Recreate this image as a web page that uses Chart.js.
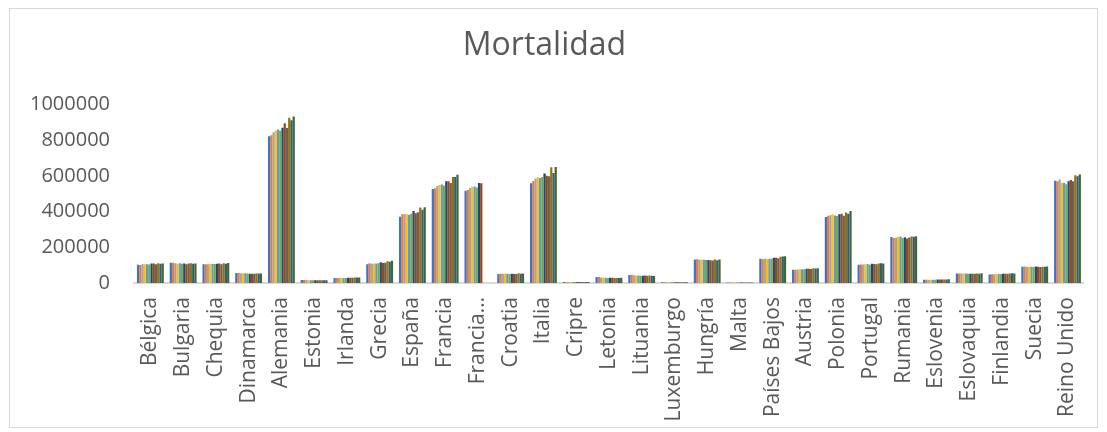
<!DOCTYPE html>
<html>
<head>
<meta charset="utf-8">
<script src="https://cdn.jsdelivr.net/npm/chart.js@4/dist/chart.umd.min.js"></script>
<style>
  html, body { margin: 0; padding: 0; background: #ffffff; }
  #wrap { position: relative; width: 1107px; height: 432px; }
  canvas { display: block; }
</style>
</head>
<body>
<div id="wrap"><canvas id="c" width="1107" height="432"></canvas></div>
<script>
const categories = ["Bélgica","Bulgaria","Chequia","Dinamarca","Alemania","Estonia","Irlanda","Grecia","España","Francia","Francia…","Croatia","Italia","Cripre","Letonia","Lituania","Luxemburgo","Hungría","Malta","Países Bajos","Austria","Polonia","Portugal","Rumania","Eslovenia","Eslovaquia","Finlandia","Suecia","Reino Unido"];
const years = ["2006","2007","2008","2009","2010","2011","2012","2013","2014","2015","2016","2017"];
const yTicks = [0, 200000, 400000, 600000, 800000, 1000000];

// values per country, one entry per year (2006..2017)
const belgica = [101587,100658,104587,104509,105094,104247,109034,109295,104723,110508,108056,109629];
const bulgaria = [113438,113004,110523,108068,110165,108258,109281,104345,108952,110117,107580,109791];
const chequia = [104441,104636,104948,107421,106844,106848,108189,109160,105665,111173,107750,111443];
const dinamarca = [55477,55604,54591,54872,54368,52516,52325,52471,51340,52555,52824,53261];
const alemania = [821627,827155,844439,854544,858768,852328,869582,893825,868356,925200,910899,932272];
const estonia = [17316,17409,16675,16081,15790,15244,15450,15244,15453,15243,15392,15577];
const irlanda = [28488,28117,28274,28380,27961,28456,29186,29504,29252,30127,30667,30418];
const grecia = [105476,109895,107979,108316,109084,111099,116670,111794,113740,121212,118788,124501];
const espana = [371478,385361,386324,384933,382047,387911,402950,390419,395830,422568,410611,424523];
const francia = [526920,531162,542575,548541,551218,545057,569868,569236,559293,593680,593865,606274];
const franciaMet = [516416,521016,532131,538116,540469,534795,559227,558408,null,null,null,null];
const croatia = [50378,52367,52151,52414,52096,51019,51710,50386,50839,54205,51542,53477];
const italia = [557892,570801,585126,591663,587488,593402,612883,600744,598364,647571,615261,649061];
const chipre = [5084,5301,5194,5182,5103,5504,5436,5360,5518,5522,5652,5686];
const letonia = [33098,33042,31006,29897,30040,28540,29025,28748,28471,28478,28580,28757];
const lituania = [44813,45624,43832,42032,42120,41037,40938,41511,40252,41776,40977,39574];
const luxemburgo = [3766,3866,3595,3655,3760,3819,3876,3956,3707,4060,3996,4162];
const hungria = [131603,132938,130027,130414,130456,128795,129440,126778,126308,131697,127053,131674];
const malta = [3200,3189,3194,3217,3030,3309,3263,3237,3293,3288,3404,3462];
const paisesBajos = [135372,133022,135136,134235,136058,135741,140813,141245,139223,147134,148973,150214];
const austria = [74295,74625,75083,77381,77199,76479,79436,79526,78252,83073,80669,83270];
const polonia = [369686,377226,379399,384940,378478,375501,384788,387312,376467,394921,388009,402852];
const portugal = [101990,103512,104280,104434,105954,102848,107612,106554,104843,108539,110573,109758];
const rumania = [258094,251965,253202,257213,259723,251439,255539,248721,254965,260995,258631,261899];
const eslovenia = [18180,18584,18308,18750,18609,18699,19257,19328,18965,19834,19689,20509];
const eslovaquia = [53301,53856,53164,52913,53445,51903,52437,52089,51346,53826,52351,53914];
const finlandia = [48065,49077,49094,49883,50887,50585,51707,51472,52186,52492,53923,53722];
const suecia = [91177,91729,91449,90080,90487,89938,91938,90402,88976,90907,90982,91972];
const reinoUnido = [572224,570044,579697,559617,561666,552232,569024,576458,570341,602782,597206,607172];

const countryValues = [belgica,bulgaria,chequia,dinamarca,alemania,estonia,irlanda,grecia,espana,francia,franciaMet,croatia,italia,chipre,letonia,lituania,luxemburgo,hungria,malta,paisesBajos,austria,polonia,portugal,rumania,eslovenia,eslovaquia,finlandia,suecia,reinoUnido];

const colors = ["#4472C4","#ED7D31","#A5A5A5","#FFC000","#5B9BD5","#70AD47","#264478","#9E480E","#636363","#997300","#255E91","#43682B"];

const datasets = years.map((y, i) => ({
  label: y,
  data: countryValues.map(c => c[i]),
  backgroundColor: colors[i],
  borderWidth: 0,
  categoryPercentage: 0.82,
  barPercentage: 1.0
}));

const borderPlugin = {
  id: 'outerBorder',
  beforeDraw(chart) {
    const ctx = chart.ctx;
    ctx.save();
    ctx.fillStyle = '#ffffff';
    ctx.fillRect(0, 0, chart.width, chart.height);
    ctx.strokeStyle = '#d9d9d9';
    ctx.lineWidth = 1;
    ctx.strokeRect(9.5, 8.5, 1088, 419);
    ctx.restore();
  }
};

const FONT = "'Open Sans', 'Liberation Sans', sans-serif";

new Chart(document.getElementById('c'), {
  type: 'bar',
  data: { labels: categories, datasets },
  plugins: [borderPlugin],
  options: {
    responsive: false,
    animation: false,
    devicePixelRatio: 1,
    layout: { padding: { top: 0, left: 0, right: 18, bottom: 0 } },
    plugins: {
      legend: { display: false },
      tooltip: { enabled: false },
      title: {
        display: true,
        text: 'Mortalidad',
        color: '#595959',
        font: { family: FONT, size: 32, weight: 'normal' },
        padding: { top: 27, bottom: 39 }
      }
    },
    scales: {
      x: {
        grid: { display: false, drawTicks: false },
        border: { display: true, color: '#d9d9d9', width: 2 },
        ticks: {
          autoSkip: false,
          minRotation: 90,
          maxRotation: 90,
          padding: 14,
          color: '#595959',
          font: { family: FONT, size: 21 }
        },
        afterFit(scale) { scale.height = 149; }
      },
      y: {
        min: 0,
        max: 1000000,
        afterBuildTicks(scale) { scale.ticks = yTicks.map(v => ({ value: v })); },
        grid: { display: false, drawTicks: false },
        border: { display: false },
        ticks: {
          padding: 24,
          color: '#595959',
          font: { family: FONT, size: 20 },
          callback: (v) => String(v)
        },
        afterFit(scale) { scale.width = 134; }
      }
    }
  }
});
</script>
</body>
</html>
